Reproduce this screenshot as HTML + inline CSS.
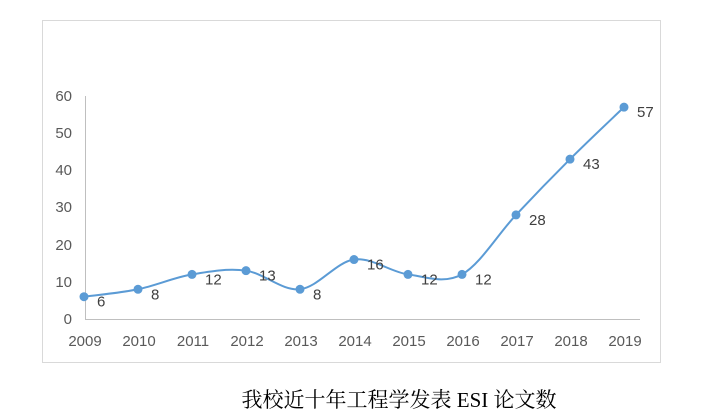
<!DOCTYPE html>
<html><head><meta charset="utf-8"><style>
body{margin:0;background:#fff;width:701px;height:414px;overflow:hidden}
svg text{font-family:"Liberation Sans",sans-serif}
</style></head><body>
<svg id="s" width="701" height="414" xmlns="http://www.w3.org/2000/svg">
<rect x="42.5" y="20.5" width="618" height="342" fill="#fff" stroke="#d9d9d9"/>
<line x1="85.5" y1="96" x2="85.5" y2="319.5" stroke="#bfbfbf"/>
<line x1="85" y1="319.5" x2="640" y2="319.5" stroke="#bfbfbf"/>
<g font-size="15" fill="#595959" text-anchor="end">
<text x="72" y="324">0</text><text x="72" y="287">10</text><text x="72" y="250">20</text><text x="72" y="212">30</text><text x="72" y="175">40</text><text x="72" y="138">50</text><text x="72" y="101">60</text>
</g>
<g id="xl" font-size="15" fill="#595959" text-anchor="middle"></g>
<path id="ln" fill="none" stroke="#5b9bd5" stroke-width="2"/>
<g id="pts" fill="#5b9bd5"></g>
<g id="lb" font-size="15" fill="#404040"></g>
<text x="399" y="407" text-anchor="middle" font-size="21" fill="#000" style="font-family:'Liberation Serif','Noto Serif CJK SC',serif">我校近十年工程学发表 ESI 论文数</text>
</svg>
<script>
var v=[6,8,12,13,8,16,12,12,28,43,57],P=[];
for(var i=0;i<v.length;i++)P.push([84+54*i,319-v[i]*3.717]);
var d="M"+P[0][0]+","+P[0][1],t=1/6;
for(var i=0;i<P.length-1;i++){var p0=P[i-1]||P[i],p1=P[i],p2=P[i+1],p3=P[i+2]||p2;
d+=" C"+(p1[0]+(p2[0]-p0[0])*t)+","+(p1[1]+(p2[1]-p0[1])*t)+" "+(p2[0]-(p3[0]-p1[0])*t)+","+(p2[1]-(p3[1]-p1[1])*t)+" "+p2[0]+","+p2[1];}
document.getElementById("ln").setAttribute("d",d);
var g=document.getElementById("pts"),l=document.getElementById("lb"),x=document.getElementById("xl"),ns="http://www.w3.org/2000/svg";
P.forEach(function(p,i){var c=document.createElementNS(ns,"circle");c.setAttribute("cx",p[0]);c.setAttribute("cy",p[1]);c.setAttribute("r",4.5);g.appendChild(c);
var tx=document.createElementNS(ns,"text");tx.setAttribute("x",p[0]+13);tx.setAttribute("y",p[1]+10);tx.textContent=v[i];l.appendChild(tx);
var xt=document.createElementNS(ns,"text");xt.setAttribute("x",p[0]+1);xt.setAttribute("y",346);xt.textContent=2009+i;x.appendChild(xt);});
</script>
</body></html>
